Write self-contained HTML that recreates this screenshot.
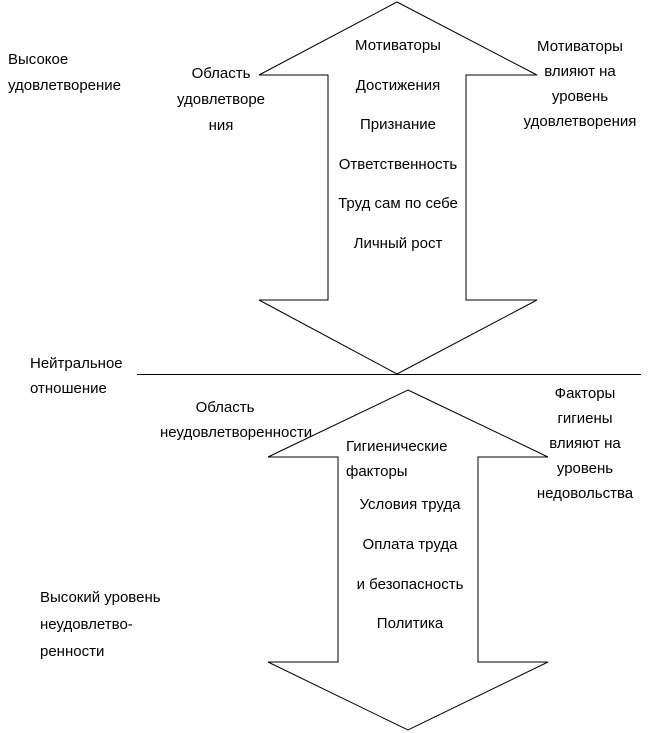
<!DOCTYPE html>
<html><head><meta charset="utf-8"><style>
body{margin:0;width:656px;height:733px;background:#fff;overflow:hidden;position:relative;font-family:"Liberation Sans","DejaVu Sans",sans-serif;font-size:15px;color:#000}
.t{position:absolute;white-space:nowrap;line-height:20px}
.c{text-align:center}
svg{position:absolute;left:0;top:0}
</style></head><body>
<svg width="656" height="733">
<g fill="none" stroke="#000" stroke-width="1">
<polygon points="397,2 537,75 466,75 466,300 537,300 397,374 259,300 328,300 328,75 259,75"/>
<polygon points="408,390 548,457 478,457 478,662 548,662 408,730 268,662 338,662 338,457 268,457"/>
<line x1="137" y1="374.5" x2="641" y2="374.5"/>
</g>
</svg>
<div class="t" style="left:8px;top:47px;line-height:26px">Высокое<br>удовлетворение</div>
<div class="t c" style="left:176px;top:61px;width:90px;line-height:26px">Область<br>удовлетворе<br>ния</div>
<div class="t c" style="left:318px;top:36px;width:160px">Мотиваторы</div>
<div class="t c" style="left:318px;top:76px;width:160px">Достижения</div>
<div class="t c" style="left:318px;top:115px;width:160px">Признание</div>
<div class="t c" style="left:318px;top:155px;width:160px">Ответственность</div>
<div class="t c" style="left:318px;top:194px;width:160px">Труд сам по себе</div>
<div class="t c" style="left:318px;top:234px;width:160px">Личный рост</div>
<div class="t c" style="left:510px;top:34px;width:140px;line-height:25px">Мотиваторы<br>влияют на<br>уровень<br>удовлетворения</div>
<div class="t" style="left:30px;top:351px;line-height:25px">Нейтральное<br>отношение</div>
<div class="t c" style="left:160px;top:395px;width:130px;line-height:25px">Область<br>неудовлетворенности</div>
<div class="t" style="left:346px;top:434px;line-height:25px">Гигиенические<br>факторы</div>
<div class="t c" style="left:330px;top:495px;width:160px">Условия труда</div>
<div class="t c" style="left:330px;top:535px;width:160px">Оплата труда</div>
<div class="t c" style="left:330px;top:575px;width:160px">и безопасность</div>
<div class="t c" style="left:330px;top:614px;width:160px">Политика</div>
<div class="t c" style="left:520px;top:381px;width:130px;line-height:25px">Факторы<br>гигиены<br>влияют на<br>уровень<br>недовольства</div>
<div class="t" style="left:40px;top:584px;line-height:27px">Высокий уровень<br>неудовлетво-<br>ренности</div>
</body></html>
